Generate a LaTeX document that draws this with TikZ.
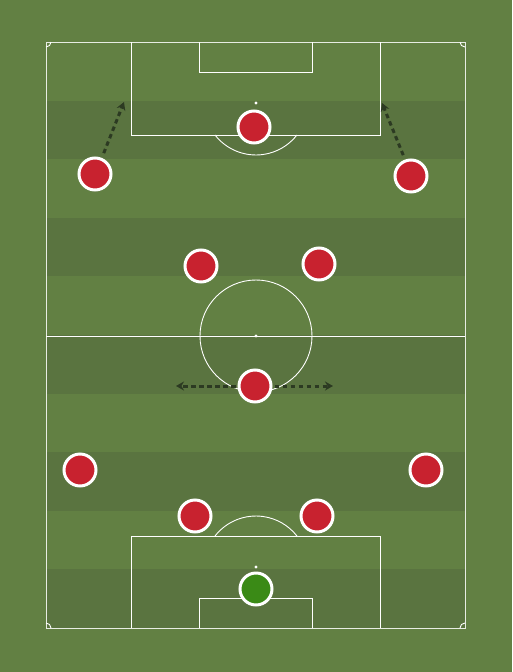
\documentclass[tikz,border=0pt]{standalone}
\usetikzlibrary{arrows.meta}
\definecolor{grass}{HTML}{628043}
\definecolor{stripe}{HTML}{5A7440}
\definecolor{shirt}{HTML}{C8222F}
\definecolor{keeper}{HTML}{3A8A16}
\definecolor{run}{HTML}{2C3A22}
\tikzset{
	pitchline/.style={white, line width=0.9pt},
	player/.style={circle, minimum size=32pt, inner sep=0pt, draw=white, line width=3pt, fill=shirt,
		preaction={fill=black, opacity=0.25, transform canvas={yshift=-1.5pt}}},
	goalie/.style={player, fill=keeper},
	runarrow/.style={run, line width=3pt, dash pattern=on 4.5pt off 3.5pt, -{Stealth[length=8pt,width=9pt]}, shorten <=2pt},
}
\begin{document}
\begin{tikzpicture}[x=1pt, y=-1pt]
	\useasboundingbox (0,0) rectangle (512,672);
	\fill[grass] (0,0) rectangle (512,672);
	% stripes
	\foreach \s in {1,3,5,7,9}
		\fill[stripe] (46,{42+58.6*\s}) rectangle (465,{42+58.6*(\s+1)});

	% pitch markings
	\draw[pitchline, color=white!85!grass] (46,42) rectangle (465,628);
	\draw[pitchline] (46,336) -- (465,336);
	\draw[pitchline] (256,336) circle (56);
	\fill[white] (256,336) circle (1.6);
	% top end
	\draw[pitchline] (131,42) -- (131,135) -- (380,135) -- (380,42);
	\draw[pitchline] (199,42) -- (199,72) -- (312,72) -- (312,42);
	\fill[white] (256,103) circle (1.6);
	\draw[pitchline] (215,135) arc[start angle=142, end angle=38, radius=52];
	% bottom end
	\draw[pitchline] (131,628) -- (131,536) -- (380,536) -- (380,628);
	\draw[pitchline] (199,628) -- (199,598) -- (312,598) -- (312,628);
	\fill[white] (256,567) circle (1.6);
	\draw[pitchline] (215,536) arc[start angle=-142, end angle=-38, radius=52];
	% corners
	\draw[pitchline] (51,42) arc[start angle=0, end angle=90, radius=5];
	\draw[pitchline] (460,42) arc[start angle=180, end angle=90, radius=5];
	\draw[pitchline] (51,628) arc[start angle=0, end angle=-90, radius=5];
	\draw[pitchline] (460,628) arc[start angle=180, end angle=270, radius=5];

	% run targets
	\coordinate (lwTo) at (124,102);
	\coordinate (rwTo) at (382,103);
	\coordinate (cmLeft) at (176,386);
	\coordinate (cmRight) at (333,386);

	\draw[runarrow] (103,155) -- (lwTo);
	\draw[runarrow] (404,157) -- (rwTo);

	% players
	\node[player] (cf) at (254,127) {};
	\node[player] (lw) at (95,174) {};
	\node[player] (rw) at (411,176) {};
	\node[player] (lcm) at (201,266) {};
	\node[player] (rcm) at (319,264) {};
	\node[player] (dm) at (255,386) {};
	\node[player] (lb) at (80,470) {};
	\node[player] (rb) at (426,470) {};
	\node[player] (lcb) at (195,516) {};
	\node[player] (rcb) at (317,516) {};
	\node[goalie] (gk) at (256,589) {};

	\draw[runarrow] (dm) -- (cmLeft);
	\draw[runarrow] (dm) -- (cmRight);
\end{tikzpicture}
\end{document}
